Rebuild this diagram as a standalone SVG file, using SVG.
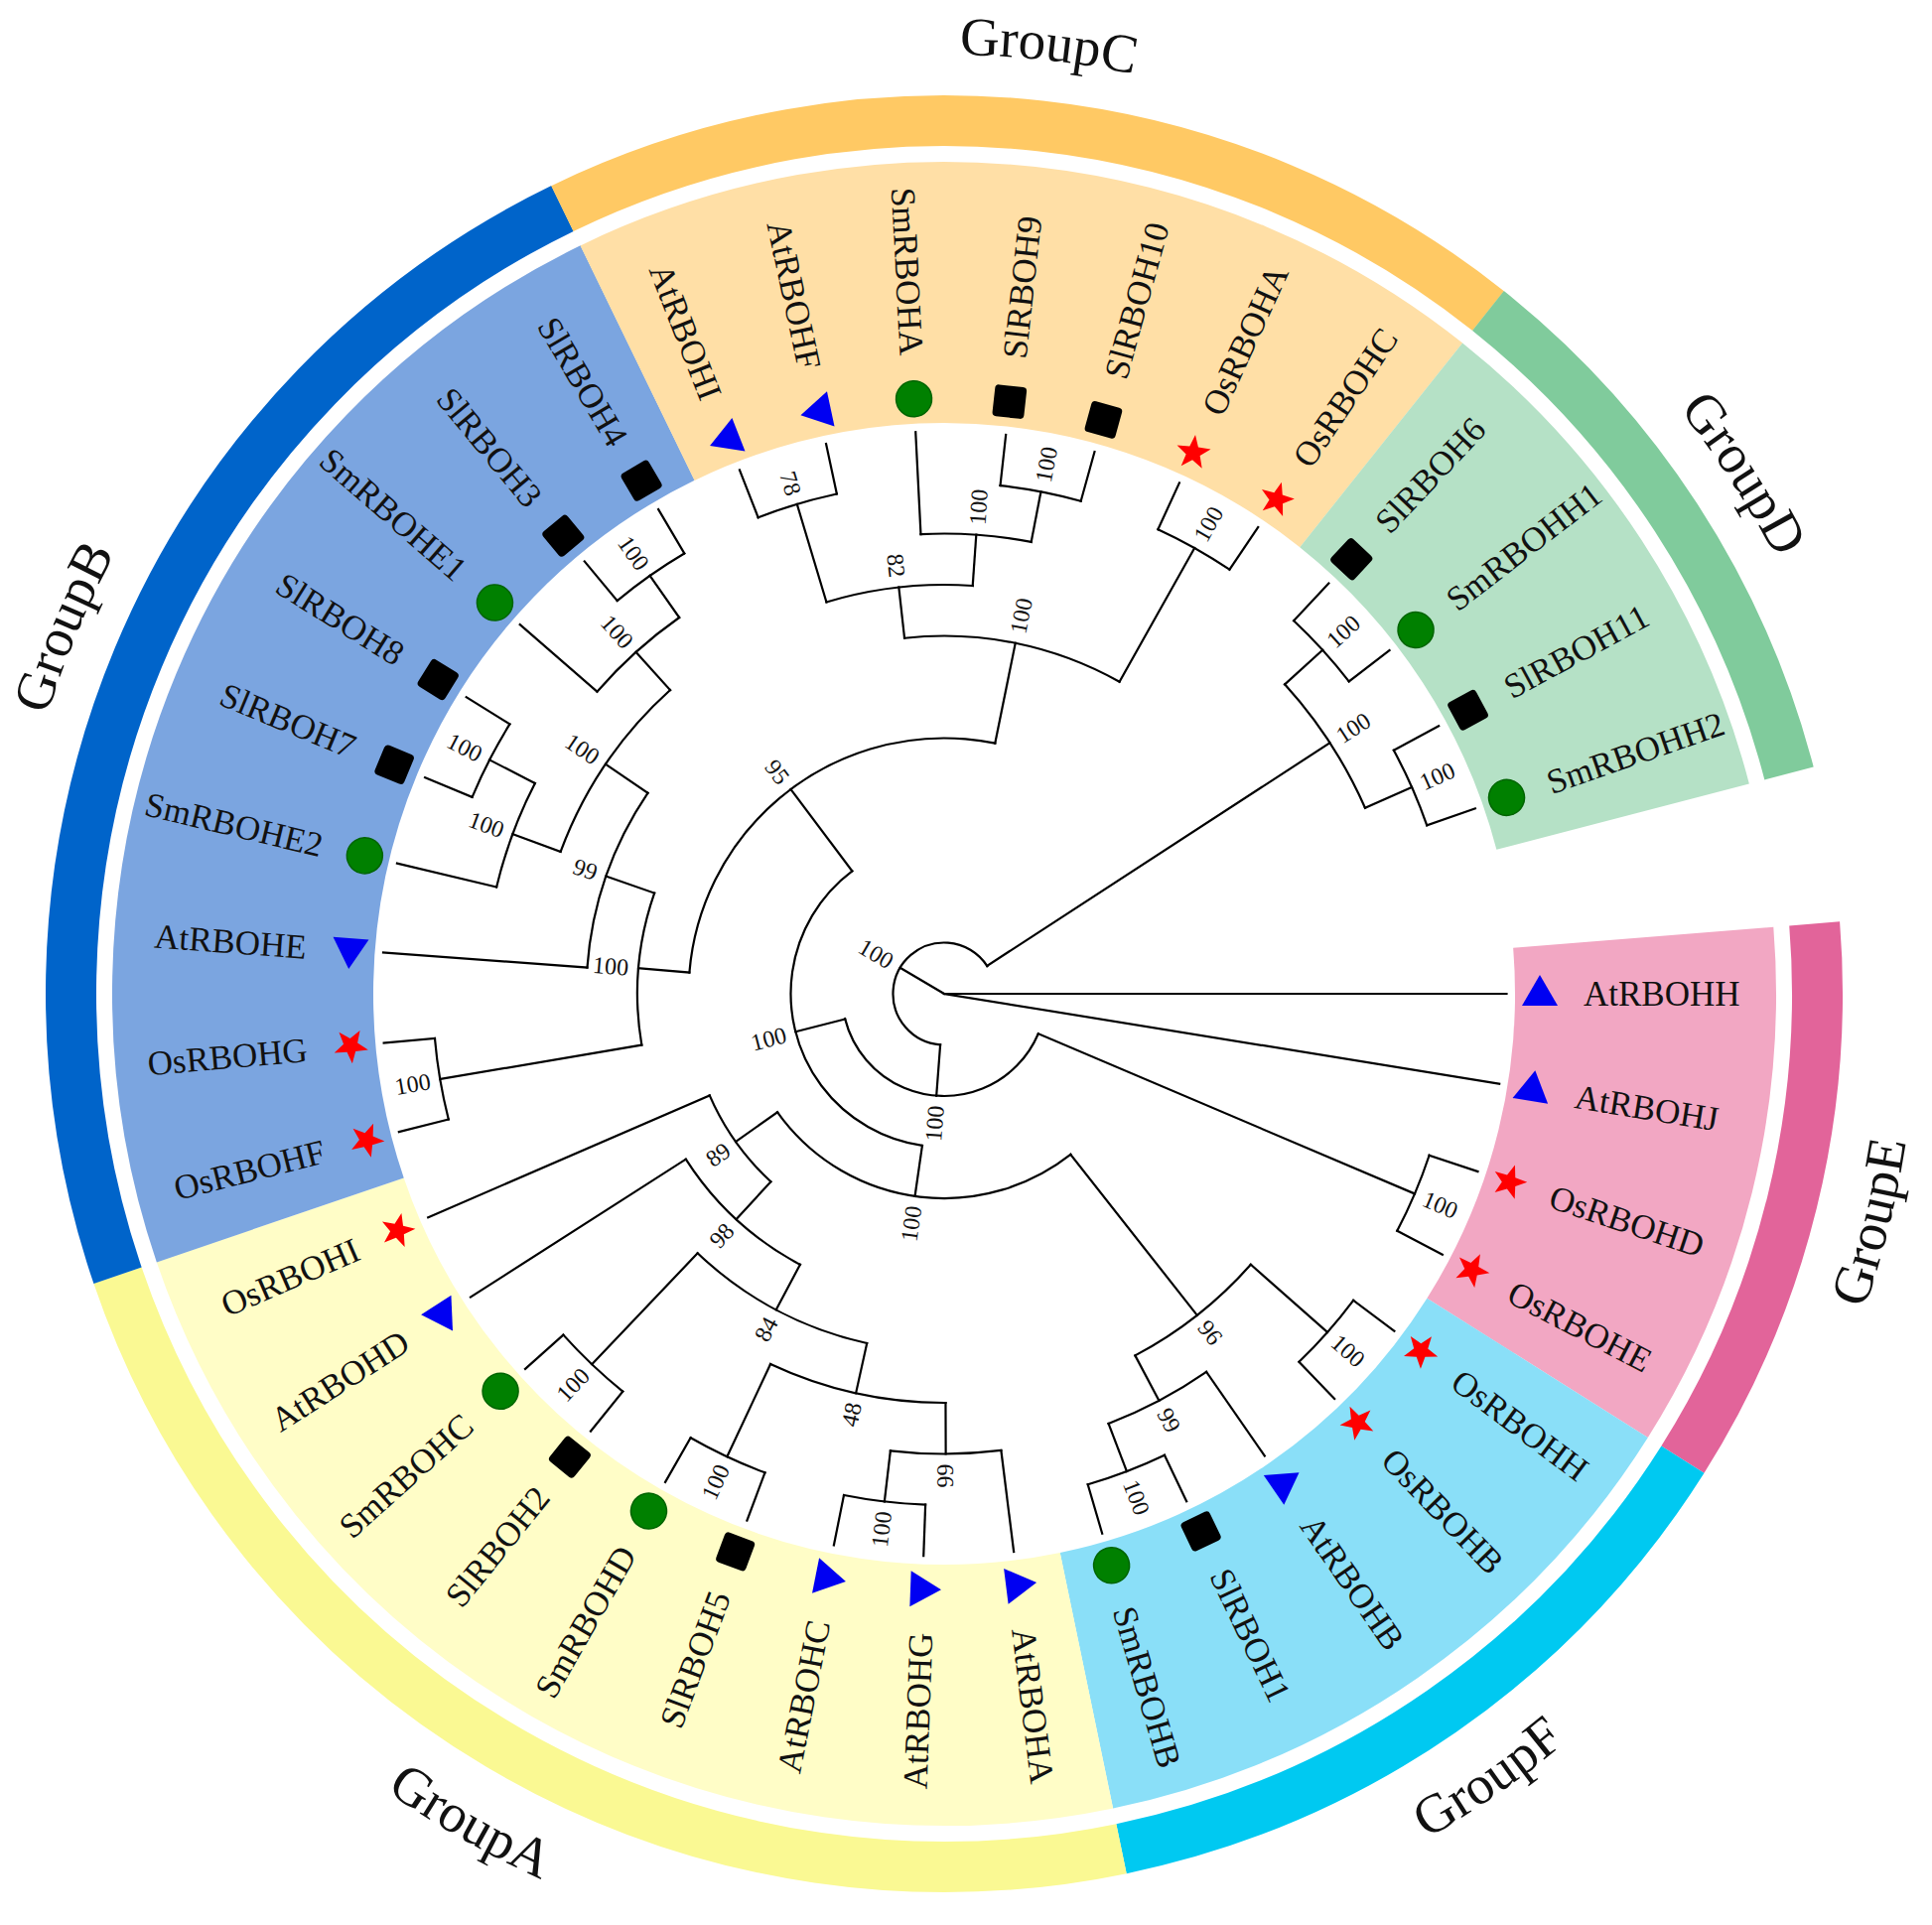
<svg xmlns="http://www.w3.org/2000/svg" width="1946" height="1939" viewBox="0 0 1946 1939">
<style>
.br{fill:none;stroke:#000;stroke-width:2.2;stroke-linecap:square}
.lf{font-family:"Liberation Serif","Times New Roman",serif;font-size:35px;fill:#111}
.bs{font-family:"Liberation Serif","Times New Roman",serif;font-size:24px;fill:#111}
.gl{font-family:"Liberation Serif","Times New Roman",serif;font-size:55px;fill:#111}
.band{fill:none;stroke-width:263}
.ring{fill:none;stroke-width:51}
</style>
<defs>
<polygon id="tri" points="0,-19 -18,12 18,12" fill="#0000F2"/>
<rect id="sq" x="-16" y="-16" width="32" height="32" rx="4" fill="#000"/>
<circle id="cir" r="18" fill="#008000" stroke="#006400" stroke-width="1.5"/>
<polygon id="star" points="0,-18 4.35,-5.99 17.12,-5.56 7.05,2.29 10.58,14.56 0,7.41 -10.58,14.56 -7.05,2.29 -17.12,-5.56 -4.35,-5.99" fill="#FF0000"/>
<path id="arcT" d="M -473 -819.26 A 946 946 0 0 1 473 -819.26"/>
<path id="arcB" d="M -490 848.72 A 980 980 0 0 0 490 848.72"/>
</defs>
<rect width="1946" height="1939" fill="#fff"/>
<g transform="translate(951 1001)">
<g id="bands">
<circle class="band" r="706.5" stroke="#F2A7C3" stroke-dasharray="454.27 5000" transform="rotate(-4.605)"/>
<circle class="band" r="706.5" stroke="#8ADFF8" stroke-dasharray="567.83 5000" transform="rotate(32.235)"/>
<circle class="band" r="706.5" stroke="#FFFDC7" stroke-dasharray="1022.10 5000" transform="rotate(78.285)"/>
<circle class="band" r="706.5" stroke="#7BA5E0" stroke-dasharray="1022.10 5000" transform="rotate(161.175)"/>
<circle class="band" r="706.5" stroke="#FFDFA6" stroke-dasharray="794.96 5000" transform="rotate(244.065)"/>
<circle class="band" r="706.5" stroke="#B5E1C6" stroke-dasharray="454.27 5000" transform="rotate(308.535)"/>
<circle class="ring" r="879.5" stroke="#E2649A" stroke-dasharray="565.50 7000" transform="rotate(-4.605)"/>
<circle class="ring" r="879.5" stroke="#00C9F1" stroke-dasharray="706.88 7000" transform="rotate(32.235)"/>
<circle class="ring" r="879.5" stroke="#FAF993" stroke-dasharray="1272.38 7000" transform="rotate(78.285)"/>
<circle class="ring" r="879.5" stroke="#0064CA" stroke-dasharray="1272.38 7000" transform="rotate(161.175)"/>
<circle class="ring" r="879.5" stroke="#FFC964" stroke-dasharray="989.63 7000" transform="rotate(244.065)"/>
<circle class="ring" r="879.5" stroke="#80CB9C" stroke-dasharray="565.50 7000" transform="rotate(308.535)"/>
</g>
<g id="group-labels" class="gl">
<text transform="rotate(6.3)"><textPath href="#arcT" startOffset="50%" text-anchor="middle">GroupC</textPath></text>
<text transform="rotate(56.955)"><textPath href="#arcT" startOffset="50%" text-anchor="middle">GroupD</textPath></text>
<text transform="rotate(-67.38)"><textPath href="#arcT" startOffset="50%" text-anchor="middle">GroupB</textPath></text>
<text transform="rotate(-76.185)"><textPath href="#arcB" startOffset="50%" text-anchor="middle">GroupE</textPath></text>
<text transform="rotate(-34.74)"><textPath href="#arcB" startOffset="50%" text-anchor="middle">GroupF</textPath></text>
<text transform="rotate(29.73)"><textPath href="#arcB" startOffset="50%" text-anchor="middle">GroupA</textPath></text>
</g>
<g id="connectors" class="br">
<line x1="0" x2="566.5" transform="rotate(0)"/>
<line x1="0" x2="566.5" transform="rotate(9.21)"/>
<line x1="0" x2="51.5" transform="rotate(210.652)"/>
<line x1="51.5" x2="103" transform="rotate(94.349)"/>
<line x1="51.5" x2="463.5" transform="rotate(326.955)"/>
<line x1="463.5" x2="515" transform="rotate(317.745)"/>
<line x1="463.5" x2="515" transform="rotate(336.165)"/>
<line x1="515" x2="566.5" transform="rotate(313.14)"/>
<line x1="515" x2="566.5" transform="rotate(322.35)"/>
<line x1="515" x2="566.5" transform="rotate(331.56)"/>
<line x1="515" x2="566.5" transform="rotate(340.77)"/>
<line x1="103" x2="515" transform="rotate(23.025)"/>
<line x1="103" x2="154.5" transform="rotate(165.672)"/>
<line x1="515" x2="566.5" transform="rotate(18.42)"/>
<line x1="515" x2="566.5" transform="rotate(27.63)"/>
<line x1="154.5" x2="206" transform="rotate(98.216)"/>
<line x1="154.5" x2="257.5" transform="rotate(233.128)"/>
<line x1="206" x2="412" transform="rotate(51.806)"/>
<line x1="206" x2="257.5" transform="rotate(144.626)"/>
<line x1="412" x2="515" transform="rotate(41.445)"/>
<line x1="412" x2="463.5" transform="rotate(62.1675)"/>
<line x1="515" x2="566.5" transform="rotate(36.84)"/>
<line x1="515" x2="566.5" transform="rotate(46.05)"/>
<line x1="463.5" x2="566.5" transform="rotate(55.26)"/>
<line x1="463.5" x2="515" transform="rotate(69.075)"/>
<line x1="515" x2="566.5" transform="rotate(64.47)"/>
<line x1="515" x2="566.5" transform="rotate(73.68)"/>
<line x1="257.5" x2="309" transform="rotate(132.682)"/>
<line x1="257.5" x2="566.5" transform="rotate(156.57)"/>
<line x1="309" x2="360.5" transform="rotate(118.003)"/>
<line x1="309" x2="566.5" transform="rotate(147.36)"/>
<line x1="360.5" x2="412" transform="rotate(102.461)"/>
<line x1="360.5" x2="515" transform="rotate(133.545)"/>
<line x1="515" x2="566.5" transform="rotate(128.94)"/>
<line x1="515" x2="566.5" transform="rotate(138.15)"/>
<line x1="412" x2="463.5" transform="rotate(89.7975)"/>
<line x1="412" x2="515" transform="rotate(115.125)"/>
<line x1="515" x2="566.5" transform="rotate(110.52)"/>
<line x1="515" x2="566.5" transform="rotate(119.73)"/>
<line x1="463.5" x2="566.5" transform="rotate(82.89)"/>
<line x1="463.5" x2="515" transform="rotate(96.705)"/>
<line x1="515" x2="566.5" transform="rotate(92.1)"/>
<line x1="515" x2="566.5" transform="rotate(101.31)"/>
<line x1="257.5" x2="309" transform="rotate(184.776)"/>
<line x1="257.5" x2="360.5" transform="rotate(281.481)"/>
<line x1="309" x2="515" transform="rotate(170.385)"/>
<line x1="515" x2="566.5" transform="rotate(165.78)"/>
<line x1="515" x2="566.5" transform="rotate(174.99)"/>
<line x1="309" x2="360.5" transform="rotate(199.166)"/>
<line x1="360.5" x2="566.5" transform="rotate(184.2)"/>
<line x1="360.5" x2="412" transform="rotate(214.1325)"/>
<line x1="412" x2="463.5" transform="rotate(200.3175)"/>
<line x1="412" x2="463.5" transform="rotate(227.9475)"/>
<line x1="463.5" x2="566.5" transform="rotate(193.41)"/>
<line x1="463.5" x2="515" transform="rotate(207.225)"/>
<line x1="515" x2="566.5" transform="rotate(202.62)"/>
<line x1="515" x2="566.5" transform="rotate(211.83)"/>
<line x1="463.5" x2="566.5" transform="rotate(221.04)"/>
<line x1="463.5" x2="515" transform="rotate(234.855)"/>
<line x1="515" x2="566.5" transform="rotate(230.25)"/>
<line x1="515" x2="566.5" transform="rotate(239.46)"/>
<line x1="360.5" x2="412" transform="rotate(263.636)"/>
<line x1="360.5" x2="515" transform="rotate(299.325)"/>
<line x1="515" x2="566.5" transform="rotate(294.72)"/>
<line x1="515" x2="566.5" transform="rotate(303.93)"/>
<line x1="412" x2="515" transform="rotate(253.275)"/>
<line x1="515" x2="566.5" transform="rotate(248.67)"/>
<line x1="515" x2="566.5" transform="rotate(257.88)"/>
<line x1="412" x2="463.5" transform="rotate(273.9975)"/>
<line x1="463.5" x2="566.5" transform="rotate(267.09)"/>
<line x1="463.5" x2="515" transform="rotate(280.905)"/>
<line x1="515" x2="566.5" transform="rotate(276.3)"/>
<line x1="515" x2="566.5" transform="rotate(285.51)"/>
<circle r="51.5" stroke-dasharray="209.08 4000" transform="rotate(94.349)"/>
<circle r="103" stroke-dasharray="256.43 4000" transform="rotate(23.025)"/>
<circle r="154.5" stroke-dasharray="363.79 4000" transform="rotate(98.216)"/>
<circle r="206" stroke-dasharray="333.72 4000" transform="rotate(51.806)"/>
<circle r="257.5" stroke-dasharray="434.61 4000" transform="rotate(184.776)"/>
<circle r="463.5" stroke-dasharray="149.01 4000" transform="rotate(317.745)"/>
<circle r="515" stroke-dasharray="82.78 4000" transform="rotate(313.14)"/>
<circle r="515" stroke-dasharray="82.78 4000" transform="rotate(331.56)"/>
<circle r="515" stroke-dasharray="82.78 4000" transform="rotate(18.42)"/>
<circle r="412" stroke-dasharray="149.01 4000" transform="rotate(41.445)"/>
<circle r="515" stroke-dasharray="82.78 4000" transform="rotate(36.84)"/>
<circle r="463.5" stroke-dasharray="111.76 4000" transform="rotate(55.26)"/>
<circle r="515" stroke-dasharray="82.78 4000" transform="rotate(64.47)"/>
<circle r="257.5" stroke-dasharray="107.36 4000" transform="rotate(132.682)"/>
<circle r="309" stroke-dasharray="158.32 4000" transform="rotate(118.003)"/>
<circle r="360.5" stroke-dasharray="195.58 4000" transform="rotate(102.461)"/>
<circle r="412" stroke-dasharray="182.12 4000" transform="rotate(89.7975)"/>
<circle r="463.5" stroke-dasharray="111.76 4000" transform="rotate(82.89)"/>
<circle r="515" stroke-dasharray="82.78 4000" transform="rotate(92.1)"/>
<circle r="515" stroke-dasharray="82.78 4000" transform="rotate(110.52)"/>
<circle r="515" stroke-dasharray="82.78 4000" transform="rotate(128.94)"/>
<circle r="309" stroke-dasharray="155.22 4000" transform="rotate(170.385)"/>
<circle r="515" stroke-dasharray="82.78 4000" transform="rotate(165.78)"/>
<circle r="360.5" stroke-dasharray="188.33 4000" transform="rotate(184.2)"/>
<circle r="412" stroke-dasharray="198.68 4000" transform="rotate(200.3175)"/>
<circle r="463.5" stroke-dasharray="111.76 4000" transform="rotate(193.41)"/>
<circle r="515" stroke-dasharray="82.78 4000" transform="rotate(202.62)"/>
<circle r="463.5" stroke-dasharray="111.76 4000" transform="rotate(221.04)"/>
<circle r="515" stroke-dasharray="82.78 4000" transform="rotate(230.25)"/>
<circle r="360.5" stroke-dasharray="224.55 4000" transform="rotate(263.636)"/>
<circle r="412" stroke-dasharray="149.01 4000" transform="rotate(253.275)"/>
<circle r="515" stroke-dasharray="82.78 4000" transform="rotate(248.67)"/>
<circle r="463.5" stroke-dasharray="111.76 4000" transform="rotate(267.09)"/>
<circle r="515" stroke-dasharray="82.78 4000" transform="rotate(276.3)"/>
<circle r="515" stroke-dasharray="82.78 4000" transform="rotate(294.72)"/>
</g>
<g id="bootstrap" class="bs">
<text text-anchor="end" transform="rotate(30.652) translate(-61.5 0)" dy="0.35em">100</text>
<text text-anchor="end" transform="rotate(-85.651) translate(-113 0)" dy="0.35em">100</text>
<text text-anchor="end" transform="rotate(-14.328) translate(-164.5 0)" dy="0.35em">100</text>
<text text-anchor="end" transform="rotate(-81.784) translate(-216 0)" dy="0.35em">100</text>
<text text-anchor="end" transform="rotate(53.128) translate(-267.5 0)" dy="0.35em">95</text>
<text transform="rotate(326.955) translate(473.5 0)" dy="0.35em">100</text>
<text transform="rotate(317.745) translate(525 0)" dy="0.35em">100</text>
<text transform="rotate(336.165) translate(525 0)" dy="0.35em">100</text>
<text transform="rotate(23.025) translate(525 0)" dy="0.35em">100</text>
<text transform="rotate(51.806) translate(422 0)" dy="0.35em">96</text>
<text transform="rotate(41.445) translate(525 0)" dy="0.35em">100</text>
<text transform="rotate(62.1675) translate(473.5 0)" dy="0.35em">99</text>
<text transform="rotate(69.075) translate(525 0)" dy="0.35em">100</text>
<text text-anchor="end" transform="rotate(-35.374) translate(-267.5 0)" dy="0.35em">89</text>
<text text-anchor="end" transform="rotate(-47.318) translate(-319 0)" dy="0.35em">98</text>
<text text-anchor="end" transform="rotate(-61.997) translate(-370.5 0)" dy="0.35em">84</text>
<text text-anchor="end" transform="rotate(-77.539) translate(-422 0)" dy="0.35em">48</text>
<text transform="rotate(89.7975) translate(473.5 0)" dy="0.35em">66</text>
<text text-anchor="end" transform="rotate(-83.295) translate(-525 0)" dy="0.35em">100</text>
<text text-anchor="end" transform="rotate(-64.875) translate(-525 0)" dy="0.35em">100</text>
<text text-anchor="end" transform="rotate(-46.455) translate(-525 0)" dy="0.35em">100</text>
<text text-anchor="end" transform="rotate(4.776) translate(-319 0)" dy="0.35em">100</text>
<text text-anchor="end" transform="rotate(-9.615) translate(-525 0)" dy="0.35em">100</text>
<text text-anchor="end" transform="rotate(19.166) translate(-370.5 0)" dy="0.35em">99</text>
<text text-anchor="end" transform="rotate(34.1325) translate(-422 0)" dy="0.35em">100</text>
<text text-anchor="end" transform="rotate(20.3175) translate(-473.5 0)" dy="0.35em">100</text>
<text text-anchor="end" transform="rotate(27.225) translate(-525 0)" dy="0.35em">100</text>
<text text-anchor="end" transform="rotate(47.9475) translate(-473.5 0)" dy="0.35em">100</text>
<text text-anchor="end" transform="rotate(54.855) translate(-525 0)" dy="0.35em">100</text>
<text transform="rotate(281.481) translate(370.5 0)" dy="0.35em">100</text>
<text text-anchor="end" transform="rotate(83.636) translate(-422 0)" dy="0.35em">82</text>
<text text-anchor="end" transform="rotate(73.275) translate(-525 0)" dy="0.35em">78</text>
<text transform="rotate(273.9975) translate(473.5 0)" dy="0.35em">100</text>
<text transform="rotate(280.905) translate(525 0)" dy="0.35em">100</text>
<text transform="rotate(299.325) translate(525 0)" dy="0.35em">100</text>
</g>
<g id="leaves" class="lf">
<g id="AtRBOHH"><use href="#tri" transform="rotate(0) translate(600 0)"/><text transform="rotate(0) translate(644 0)" dy="0.34em">AtRBOHH</text></g>
<g id="AtRBOHJ"><use href="#tri" transform="rotate(9.21) translate(600 0)"/><text transform="rotate(9.21) translate(644 0)" dy="0.34em">AtRBOHJ</text></g>
<g id="OsRBOHD"><use href="#star" transform="rotate(18.42) translate(600 0)"/><text transform="rotate(18.42) translate(644 0)" dy="0.34em">OsRBOHD</text></g>
<g id="OsRBOHE"><use href="#star" transform="rotate(27.63) translate(600 0)"/><text transform="rotate(27.63) translate(644 0)" dy="0.34em">OsRBOHE</text></g>
<g id="OsRBOHH"><use href="#star" transform="rotate(36.84) translate(600 0)"/><text transform="rotate(36.84) translate(644 0)" dy="0.34em">OsRBOHH</text></g>
<g id="OsRBOHB"><use href="#star" transform="rotate(46.05) translate(600 0)"/><text transform="rotate(46.05) translate(644 0)" dy="0.34em">OsRBOHB</text></g>
<g id="AtRBOHB"><use href="#tri" transform="rotate(55.26) translate(600 0)"/><text transform="rotate(55.26) translate(644 0)" dy="0.34em">AtRBOHB</text></g>
<g id="SlRBOH1"><use href="#sq" transform="rotate(64.47) translate(600 0)"/><text transform="rotate(64.47) translate(644 0)" dy="0.34em">SlRBOH1</text></g>
<g id="SmRBOHB"><use href="#cir" transform="rotate(73.68) translate(600 0)"/><text transform="rotate(73.68) translate(644 0)" dy="0.34em">SmRBOHB</text></g>
<g id="AtRBOHA"><use href="#tri" transform="rotate(82.89) translate(600 0)"/><text transform="rotate(82.89) translate(644 0)" dy="0.34em">AtRBOHA</text></g>
<g id="AtRBOHG"><use href="#tri" transform="rotate(92.1) translate(600 0)"/><text text-anchor="end" transform="rotate(-87.9) translate(-644 0)" dy="0.34em">AtRBOHG</text></g>
<g id="AtRBOHC"><use href="#tri" transform="rotate(101.31) translate(600 0)"/><text text-anchor="end" transform="rotate(-78.69) translate(-644 0)" dy="0.34em">AtRBOHC</text></g>
<g id="SlRBOH5"><use href="#sq" transform="rotate(110.52) translate(600 0)"/><text text-anchor="end" transform="rotate(-69.48) translate(-644 0)" dy="0.34em">SlRBOH5</text></g>
<g id="SmRBOHD"><use href="#cir" transform="rotate(119.73) translate(600 0)"/><text text-anchor="end" transform="rotate(-60.27) translate(-644 0)" dy="0.34em">SmRBOHD</text></g>
<g id="SlRBOH2"><use href="#sq" transform="rotate(128.94) translate(600 0)"/><text text-anchor="end" transform="rotate(-51.06) translate(-644 0)" dy="0.34em">SlRBOH2</text></g>
<g id="SmRBOHC"><use href="#cir" transform="rotate(138.15) translate(600 0)"/><text text-anchor="end" transform="rotate(-41.85) translate(-644 0)" dy="0.34em">SmRBOHC</text></g>
<g id="AtRBOHD"><use href="#tri" transform="rotate(147.36) translate(600 0)"/><text text-anchor="end" transform="rotate(-32.64) translate(-644 0)" dy="0.34em">AtRBOHD</text></g>
<g id="OsRBOHI"><use href="#star" transform="rotate(156.57) translate(600 0)"/><text text-anchor="end" transform="rotate(-23.43) translate(-644 0)" dy="0.34em">OsRBOHI</text></g>
<g id="OsRBOHF"><use href="#star" transform="rotate(165.78) translate(600 0)"/><text text-anchor="end" transform="rotate(-14.22) translate(-644 0)" dy="0.34em">OsRBOHF</text></g>
<g id="OsRBOHG"><use href="#star" transform="rotate(174.99) translate(600 0)"/><text text-anchor="end" transform="rotate(-5.01) translate(-644 0)" dy="0.34em">OsRBOHG</text></g>
<g id="AtRBOHE"><use href="#tri" transform="rotate(184.2) translate(600 0)"/><text text-anchor="end" transform="rotate(4.2) translate(-644 0)" dy="0.34em">AtRBOHE</text></g>
<g id="SmRBOHE2"><use href="#cir" transform="rotate(193.41) translate(600 0)"/><text text-anchor="end" transform="rotate(13.41) translate(-644 0)" dy="0.34em">SmRBOHE2</text></g>
<g id="SlRBOH7"><use href="#sq" transform="rotate(202.62) translate(600 0)"/><text text-anchor="end" transform="rotate(22.62) translate(-644 0)" dy="0.34em">SlRBOH7</text></g>
<g id="SlRBOH8"><use href="#sq" transform="rotate(211.83) translate(600 0)"/><text text-anchor="end" transform="rotate(31.83) translate(-644 0)" dy="0.34em">SlRBOH8</text></g>
<g id="SmRBOHE1"><use href="#cir" transform="rotate(221.04) translate(600 0)"/><text text-anchor="end" transform="rotate(41.04) translate(-644 0)" dy="0.34em">SmRBOHE1</text></g>
<g id="SlRBOH3"><use href="#sq" transform="rotate(230.25) translate(600 0)"/><text text-anchor="end" transform="rotate(50.25) translate(-644 0)" dy="0.34em">SlRBOH3</text></g>
<g id="SlRBOH4"><use href="#sq" transform="rotate(239.46) translate(600 0)"/><text text-anchor="end" transform="rotate(59.46) translate(-644 0)" dy="0.34em">SlRBOH4</text></g>
<g id="AtRBOHI"><use href="#tri" transform="rotate(248.67) translate(600 0)"/><text text-anchor="end" transform="rotate(68.67) translate(-644 0)" dy="0.34em">AtRBOHI</text></g>
<g id="AtRBOHF"><use href="#tri" transform="rotate(257.88) translate(600 0)"/><text text-anchor="end" transform="rotate(77.88) translate(-644 0)" dy="0.34em">AtRBOHF</text></g>
<g id="SmRBOHA"><use href="#cir" transform="rotate(267.09) translate(600 0)"/><text text-anchor="end" transform="rotate(87.09) translate(-644 0)" dy="0.34em">SmRBOHA</text></g>
<g id="SlRBOH9"><use href="#sq" transform="rotate(276.3) translate(600 0)"/><text transform="rotate(276.3) translate(644 0)" dy="0.34em">SlRBOH9</text></g>
<g id="SlRBOH10"><use href="#sq" transform="rotate(285.51) translate(600 0)"/><text transform="rotate(285.51) translate(644 0)" dy="0.34em">SlRBOH10</text></g>
<g id="OsRBOHA"><use href="#star" transform="rotate(294.72) translate(600 0)"/><text transform="rotate(294.72) translate(644 0)" dy="0.34em">OsRBOHA</text></g>
<g id="OsRBOHC"><use href="#star" transform="rotate(303.93) translate(600 0)"/><text transform="rotate(303.93) translate(644 0)" dy="0.34em">OsRBOHC</text></g>
<g id="SlRBOH6"><use href="#sq" transform="rotate(313.14) translate(600 0)"/><text transform="rotate(313.14) translate(644 0)" dy="0.34em">SlRBOH6</text></g>
<g id="SmRBOHH1"><use href="#cir" transform="rotate(322.35) translate(600 0)"/><text transform="rotate(322.35) translate(644 0)" dy="0.34em">SmRBOHH1</text></g>
<g id="SlRBOH11"><use href="#sq" transform="rotate(331.56) translate(600 0)"/><text transform="rotate(331.56) translate(644 0)" dy="0.34em">SlRBOH11</text></g>
<g id="SmRBOHH2"><use href="#cir" transform="rotate(340.77) translate(600 0)"/><text transform="rotate(340.77) translate(644 0)" dy="0.34em">SmRBOHH2</text></g>
</g>
</g>
</svg>
